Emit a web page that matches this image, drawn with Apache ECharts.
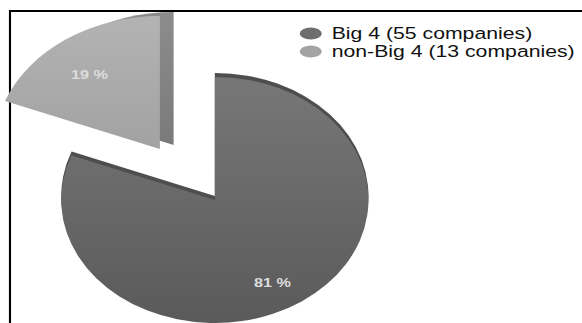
<!DOCTYPE html>
<html>
<head>
<meta charset="utf-8">
<script src="https://cdn.jsdelivr.net/npm/echarts@6/dist/echarts.min.js"></script>
<style>
  html, body { margin: 0; padding: 0; background: #fff; overflow: hidden; }
  #c { width: 466px; height: 323px; transform: scaleX(1.249); transform-origin: 0 0; }
</style>
</head>
<body>
<div id="c"></div>
<script>
const categories = ['Big 4 (55 companies)', 'non-Big 4 (13 companies)'];
const companies = [55, 13];
const sliceColors = ['#6e6e6e', '#a3a3a3'];

const W = 466;
const mainCenter = [172, 200], mainR = 123;
const expCenter = [128, 149], expR = 133;
const CLEAR = { color: 'rgba(0,0,0,0)', borderWidth: 0 };

function slices(showIndex, style) {
  return categories.map((name, i) => ({
    name: name,
    value: companies[i],
    itemStyle: i === showIndex ? Object.assign({ borderWidth: 0 }, style) : CLEAR
  }));
}
function grad(top, bottom) {
  return { type: 'linear', x: 0, y: 0, x2: 0, y2: 1,
    colorStops: [{ offset: 0, color: top }, { offset: 1, color: bottom }] };
}
function pie(center, radius, data, label) {
  return {
    type: 'pie', silent: true, animation: false,
    startAngle: 90, clockwise: true, avoidLabelOverlap: false,
    center: center, radius: radius, data: data,
    label: label || { show: false }, labelLine: { show: false },
    emphasis: { disabled: true }
  };
}
const pctLabel = (idx) => ({
  show: true, position: 'inside',
  formatter: (p) => p.dataIndex === idx ? Math.round(p.percent) + ' %' : '',
  color: '#dcdcdc', fontSize: 13, fontWeight: 'bold',
  fontFamily: 'Liberation Sans, Arial, sans-serif'
});

const chart = echarts.init(document.getElementById('c'), null, { renderer: 'svg' });
chart.setOption({
  animation: false,
  backgroundColor: '#fff',
  legend: {
    orient: 'vertical', left: 240, top: 25, padding: 0,
    itemWidth: 17.6, itemHeight: 12, itemGap: 1, selectedMode: false,
    icon: 'path://M0,6 A8.8,6 0 1,1 17.6,6 A8.8,6 0 1,1 0,6 Z',
    textStyle: { fontFamily: 'Liberation Sans, Arial, sans-serif', fontSize: 17, lineHeight: 17,
      color: '#111', padding: [0, 0, 0, 3] },
    data: categories.map((name, i) => ({ name: name, itemStyle: { color: sliceColors[i] } }))
  },
  graphic: [
    { type: 'line', shape: { x1: 8, y1: 11, x2: W, y2: 11 }, style: { stroke: '#000', lineWidth: 2 } },
    { type: 'line', shape: { x1: 8, y1: 10, x2: 8, y2: 323 }, style: { stroke: '#000', lineWidth: 1.7 } }
  ],
  series: [
    // depth / rim of the big slice
    pie([mainCenter[0], mainCenter[1] - 4], mainR, slices(0, { color: '#4e4e4e' })),
    // side face of the exploded slice
    pie([expCenter[0] + 11, expCenter[1] - 4], expR, slices(1, { color: grad('#8c8c8c', '#7a7a7a') })),
    // top faces
    pie(mainCenter, mainR, slices(0, { color: grad('#777777', '#5a5a5a') })),
    pie(expCenter, expR, slices(1, { color: grad('#b3b3b3', '#a2a2a2') })),
    // labels
    pie([165, 205], [70, 112], slices(-1, {}), pctLabel(0)),
    pie([123, 150], [66, 110], slices(-1, {}), pctLabel(1))
  ]
});
</script>
</body>
</html>
